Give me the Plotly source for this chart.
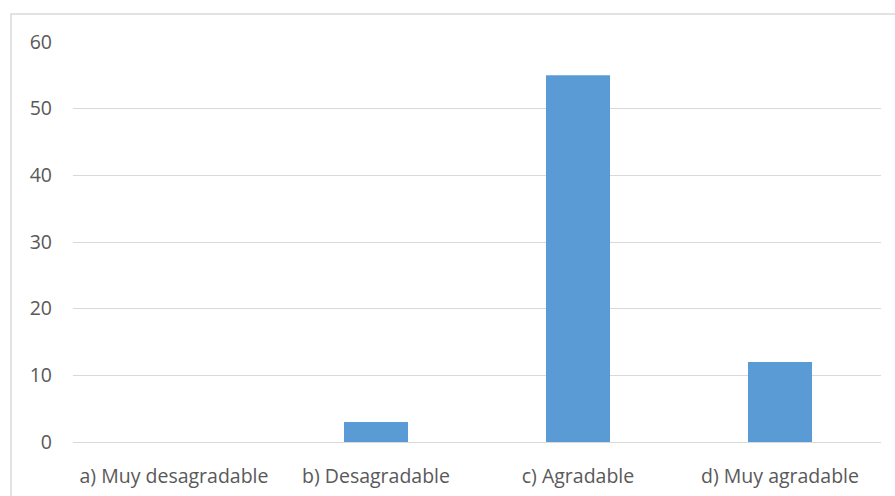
import plotly.graph_objects as go

# Respuestas por categoría
categorias = ["a) Muy desagradable", "b) Desagradable", "c) Agradable", "d) Muy agradable"]
valores = [0, 3, 55, 12]
y_ticks = [0, 10, 20, 30, 40, 50, 60]

W, H = 895, 496
L, R, T, B = 73, 14, 42, 54
pw = W - L - R
ph = H - T - B

fig = go.Figure(
    go.Bar(
        x=categorias,
        y=valores,
        marker=dict(color="#5B9BD5", line=dict(width=0)),
    )
)

# Marco del gráfico (borde gris claro)
fig.add_shape(
    type="rect",
    xref="paper", yref="paper",
    x0=(11 - L) / pw, x1=(W + 10 - L) / pw,
    y0=(H - B - (H + 20)) / ph, y1=(H - B - 14) / ph,
    line=dict(color="#D9D9D9", width=1.5),
    fillcolor="rgba(0,0,0,0)",
    layer="below",
)

font = dict(family="Open Sans, Liberation Sans, sans-serif", size=19.5, color="#595959")

fig.update_layout(
    width=W, height=H,
    margin=dict(l=L, r=R, t=T, b=B),
    paper_bgcolor="white",
    plot_bgcolor="white",
    bargap=0.683,
    showlegend=False,
    font=font,
    xaxis=dict(
        showgrid=False,
        showline=False,
        ticks="",
        tickfont=font,
        ticklabelstandoff=20,
        automargin=False,
    ),
    yaxis=dict(
        range=[0, 60],
        tickvals=y_ticks,
        showgrid=True,
        gridcolor="#D9D9D9",
        gridwidth=1,
        zeroline=True,
        zerolinecolor="#D9D9D9",
        zerolinewidth=1,
        showline=False,
        ticks="",
        tickfont=font,
        ticklabelstandoff=20,
        automargin=False,
    ),
)

fig.write_html("out.html")
